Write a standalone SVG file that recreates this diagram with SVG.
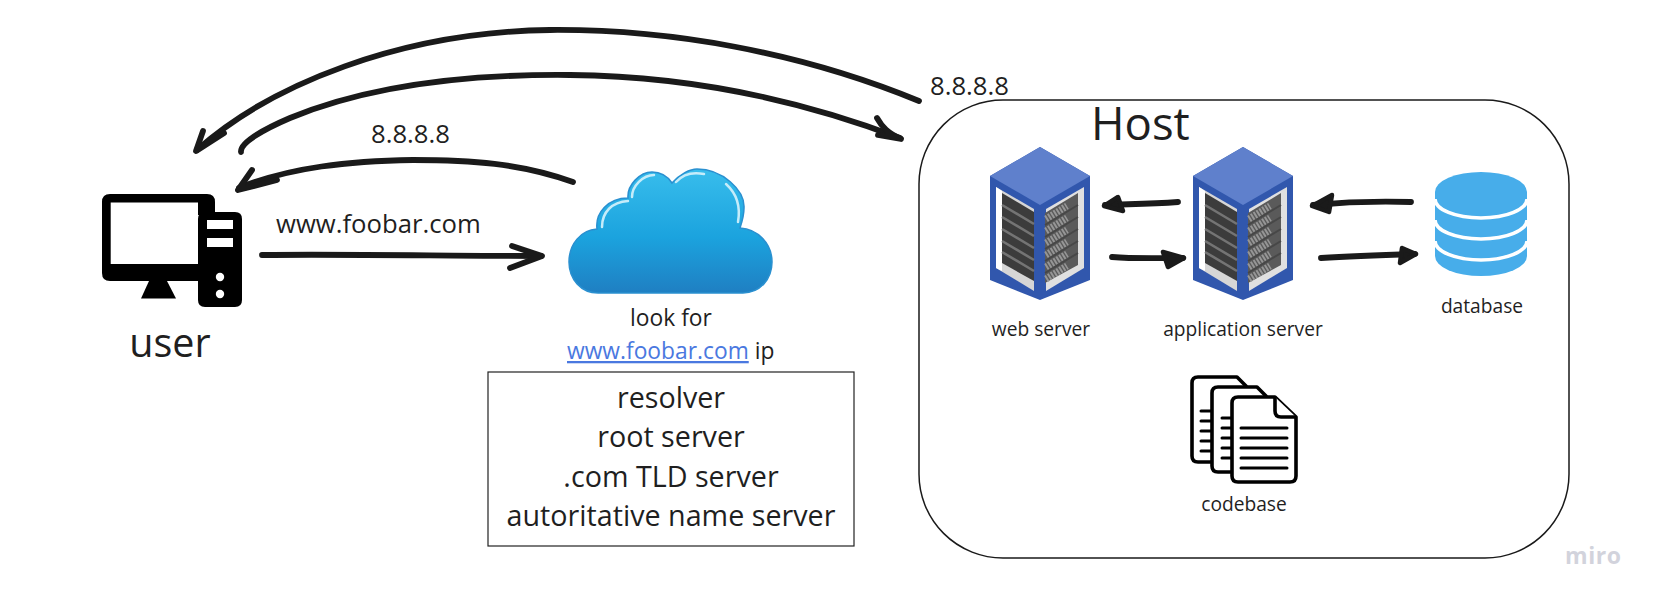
<svg xmlns="http://www.w3.org/2000/svg" width="1656" height="603" viewBox="0 0 1656 603">
<style>
text{font-family:"Open Sans","Noto Sans","DejaVu Sans",sans-serif;fill:#1f1f1f}
.m{text-anchor:middle}
.sm{font-size:19.200px}
.nt{font-size:22.800px}
.md{font-size:25.700px}
.lg{font-size:28.700px}
.xl{font-size:45.500px}
.c{fill:none;stroke:#1a1a1a;stroke-width:5.800;stroke-linecap:round;stroke-linejoin:round}
.h{fill:#1a1a1a;stroke:#1a1a1a;stroke-width:4.500;stroke-linecap:round;stroke-linejoin:round}
.doc{fill:#fff;stroke:#000;stroke-width:3.600;stroke-linejoin:round}
.dl{fill:none;stroke:#000;stroke-width:3;stroke-linecap:round}
.gapL{fill:none;stroke:#747474;stroke-width:2.600}
.gapR{fill:none;stroke:#474747;stroke-width:2}
.tick{fill:none;stroke:#969696;stroke-width:7;stroke-dasharray:2 1.300}
.dbgap{fill:none;stroke:#fff;stroke-width:3.600}
</style>
<defs>
<linearGradient id="cloudFill" x1="0" y1="0" x2="0" y2="1">
<stop offset="0" stop-color="#38bdec"/><stop offset="0.55" stop-color="#1ba3de"/><stop offset="1" stop-color="#1f7fc2"/>
</linearGradient>
<g id="server">
<polygon points="1040,147 1090,176 1090,280 1040,300 990,280 990,176" fill="#3157ad"/>
<polygon points="1040,147 1090,176 1040,205 990,176" fill="#5f80cc"/>
<polygon points="996,187 1034,209 1034,291 996,268" fill="#d6d6d6"/>
<polygon points="996,187 1002,191 1002,271 996,268" fill="#fff"/>
<polygon points="1084,187 1046,209 1046,291 1084,268" fill="#e0e0e0"/>
<polygon points="1002,193 1034,212 1034,281 1002,263" fill="#3c3c3c"/>
<path class="gapL" d="M1002,205 L1034,224 M1002,217 L1034,236 M1002,229 L1034,248 M1002,241 L1034,260 M1002,252 L1034,271"/>
<polygon points="1078,193 1045,213 1045,283 1078,265" fill="#5a5a5a"/>
<path class="tick" d="M1046,219 L1067,206 M1046,231 L1067,218 M1046,243 L1067,230 M1046,255 L1067,242 M1046,267 L1067,254 M1046,279 L1067,266"/>
<path class="gapR" d="M1045,225 L1078,205 M1045,237 L1078,217 M1045,249 L1078,229 M1045,261 L1078,241 M1045,273 L1078,253"/>
</g>
</defs>
<rect width="1656" height="603" fill="#fff"/>

<g id="connectors">
<g id="conn-host-user">
<path class="c" d="M919,101 C800,52 670,29 550,30 C400,32 270,85 197,150"/>
<path class="c" d="M203,131 L196,151 L224,133"/>
</g>
<g id="conn-user-host">
<path class="c" d="M241,152 C240,143 262,130 290,118 C370,85 470,74 570,75 C690,76 800,100 900,138"/>
<path class="c" d="M877,118 C882,127 888,133 901,139 L878,135"/>
</g>
<g id="conn-cloud-user">
<path class="c" d="M573,182 C520,163 470,160 413,160 C350,161 290,167 239,188"/>
<path class="c" d="M252,170 L238,190 L277,180"/>
</g>
<g id="conn-user-cloud">
<path class="c" d="M262,255 C350,254 450,256 541,256"/>
<path class="c" d="M512,246 L542,256 L510,268"/>
</g>
<g id="conn-app-web">
<path class="c" d="M1178,202 C1150,204 1130,204 1105,205"/>
<path class="h" d="M1118,197 L1104,206 L1123,211 Z"/>
</g>
<g id="conn-web-app">
<path class="c" d="M1112,257 C1135,259 1160,258 1183,258"/>
<path class="h" d="M1163,252 L1184,258 L1168,267 Z"/>
</g>
<g id="conn-db-app">
<path class="c" d="M1411,202 C1380,201 1345,202 1313,205"/>
<path class="h" d="M1332,195 L1312,206 L1329,212 Z"/>
</g>
<g id="conn-app-db">
<path class="c" d="M1321,258 C1350,256 1380,255 1415,254"/>
<path class="h" d="M1402,248 L1416,254 L1400,263 Z"/>
</g>
</g>

<g id="host">
<rect x="919" y="100" width="650" height="458" rx="84" ry="84" fill="none" stroke="#1a1a1a" stroke-width="1.500"/>
<text class="xl" x="1091" y="140">Host</text>
</g>

<g id="user">
<path d="M110,194 H207 Q215,194 215,202 V215 H198 V202.500 H110.700 V264 H198 V281 H110 Q102,281 102,273 V202 Q102,194 110,194 Z" fill="#000"/>
<polygon points="149,281 167,281 176,298.500 141,298.500" fill="#000"/>
<path fill-rule="evenodd" d="M205,212 H235 Q242,212 242,219 V300 Q242,307 235,307 H205 Q198,307 198,300 V219 Q198,212 205,212 Z M207,220 V229 H233 V220 Z M207,238 V247 H233 V238 Z" fill="#000"/>
<circle cx="220" cy="277" r="4.200" fill="#fff"/>
<circle cx="220" cy="294" r="4.200" fill="#fff"/>
<text class="m" x="170" y="357" font-size="39.500">user</text>
</g>

<g id="label-request"><text class="md" x="276" y="233">www.foobar.com</text></g>
<g id="label-ip-near"><text class="md" x="371" y="143">8.8.8.8</text></g>
<g id="label-ip-far"><text class="md" x="930" y="95">8.8.8.8</text></g>

<g id="cloud">
<path d="M598,293 C581,293 569,279 569,262 C569,244 581,230 597,229 C595,213 608,198 628,198 C627,185 640,172 652,172 C661,172 668,177 672,183 C680,174 690,169 697,169 C722,169 745,190 744,208 C744,215 742,222 740,228 C758,229 772,244 772,262 C772,279 760,293 743,293 Z" fill="url(#cloudFill)" stroke="#2a90d0" stroke-width="1.500"/>
<path d="M602,227 C602,212 612,202 628,201 M632,197 C632,186 643,175 654,175 M676,182 C684,173 694,172 704,174 M726,184 C736,193 741,205 738,222" fill="none" stroke="#c5ecfa" stroke-width="2.500" stroke-linecap="round"/>
<text class="m nt" x="671" y="326">look for</text>
<text class="nt" x="567" y="359"><tspan text-decoration="underline" style="fill:#4a78e0">www.foobar.com</tspan> ip</text>
</g>

<g id="dns-list">
<rect x="488" y="372" width="366" height="174" fill="none" stroke="#222" stroke-width="1.200"/>
<text class="m lg" x="671" y="408">resolver</text>
<text class="m lg" x="671" y="447">root server</text>
<text class="m lg" x="671" y="487">.com TLD server</text>
<text class="m lg" x="671" y="526">autoritative name server</text>
</g>

<g id="web-server">
<use href="#server"/>
<text class="m sm" x="1041" y="336">web server</text>
</g>
<g id="application-server">
<use href="#server" x="203"/>
<text class="m sm" x="1243" y="336">application server</text>
</g>

<g id="database">
<path d="M1435,192 A46,20 0 0 1 1527,192 V256 A46,20 0 0 1 1435,256 Z" fill="#47adea"/>
<path class="dbgap" d="M1435,199 A46,19 0 0 0 1527,199 M1435,220 A46,19 0 0 0 1527,220 M1435,241 A46,19 0 0 0 1527,241"/>
<text class="m sm" x="1482" y="313">database</text>
</g>

<g id="codebase">
<path class="doc" d="M1198,377 H1237 L1246,386 V462 H1198 Q1192,462 1192,456 V383 Q1192,377 1198,377 Z"/>
<path class="dl" d="M1201,411 H1211 M1201,421 H1211 M1201,431 H1211 M1201,441 H1211 M1201,451 H1211"/>
<path class="doc" d="M1218,387 H1257 L1266,396 V472 H1218 Q1212,472 1212,466 V393 Q1212,387 1218,387 Z"/>
<path class="dl" d="M1222,418 H1232 M1222,428 H1232 M1222,438 H1232 M1222,448 H1232 M1222,458 H1232"/>
<path class="doc" d="M1238,397 H1275 L1296,417 V476 Q1296,482 1290,482 H1238 Q1232,482 1232,476 V403 Q1232,397 1238,397 Z"/>
<path class="doc" d="M1275,397 V411 Q1275,417 1281,417 H1296" fill="none"/>
<path class="dl" d="M1241,428 H1287 M1241,438 H1287 M1241,448 H1287 M1241,458 H1287 M1241,468 H1287"/>
<text class="m sm" x="1244" y="511">codebase</text>
</g>

<g id="watermark"><text x="1565" y="564" font-size="23" font-weight="700" letter-spacing="0.600" style="font-family:'Open Sans',sans-serif;fill:#d2d3dc">miro</text></g>
</svg>
